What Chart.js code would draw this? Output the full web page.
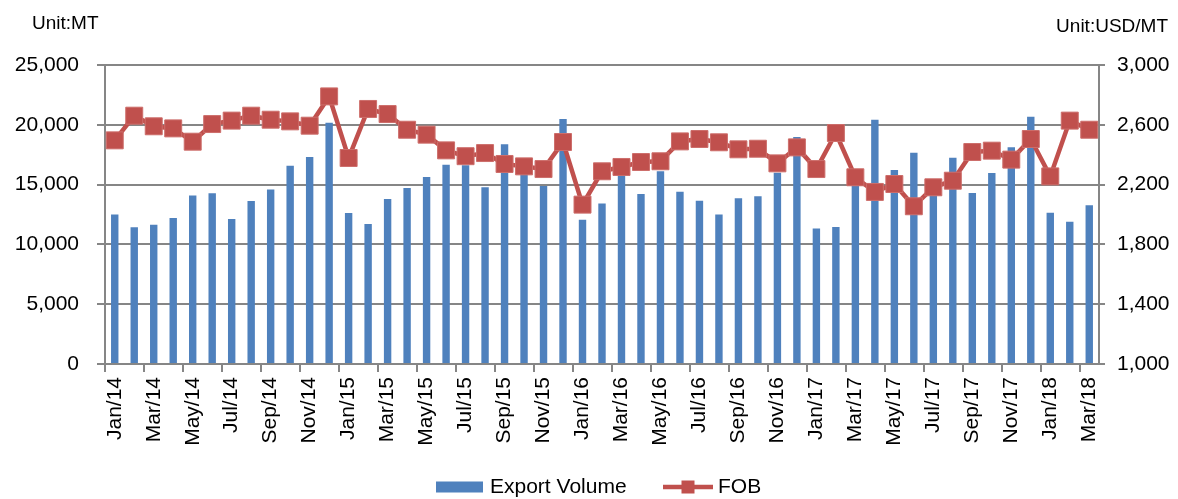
<!DOCTYPE html>
<html>
<head>
<meta charset="utf-8">
<script src="https://cdn.jsdelivr.net/npm/chart.js@4/dist/chart.umd.min.js"></script>
<style>
  html, body { margin: 0; padding: 0; background: #fff; }
  #wrap { width: 1178px; height: 499px; position: relative; }
</style>
</head>
<body>
<div id="wrap"><canvas id="chart" width="1178" height="499"></canvas></div>
<script>
// Month labels (x axis)
const months = [
    'Jan/14', 'Feb/14', 'Mar/14', 'Apr/14', 'May/14', 'Jun/14', 'Jul/14', 'Aug/14', 'Sep/14', 'Oct/14', 'Nov/14', 'Dec/14',
    'Jan/15', 'Feb/15', 'Mar/15', 'Apr/15', 'May/15', 'Jun/15', 'Jul/15', 'Aug/15', 'Sep/15', 'Oct/15', 'Nov/15', 'Dec/15',
    'Jan/16', 'Feb/16', 'Mar/16', 'Apr/16', 'May/16', 'Jun/16', 'Jul/16', 'Aug/16', 'Sep/16', 'Oct/16', 'Nov/16', 'Dec/16',
    'Jan/17', 'Feb/17', 'Mar/17', 'Apr/17', 'May/17', 'Jun/17', 'Jul/17', 'Aug/17', 'Sep/17', 'Oct/17', 'Nov/17', 'Dec/17',
    'Jan/18', 'Feb/18', 'Mar/18'
];

// Export volume (MT), left axis
const exportVolume = [
    12500, 11430, 11650, 12200, 14080, 14270, 12120, 13630, 14600, 16580, 17310, 20180,
    12630, 11710, 13800, 14720, 15640, 16670, 16610, 14770, 18370, 16000, 14880, 20490,
    12070, 13410, 16000, 14210, 16110, 14410, 13660, 12490, 13850, 14020, 16000, 18980,
    11320, 11460, 14900, 20430, 16220, 17670, 14100, 17250, 14300, 15970, 18120, 20680,
    12650, 11900, 13270
];

// FOB price (USD/MT), right axis
const fobPrice = [
    2496, 2661, 2590, 2576, 2487, 2605, 2628, 2661, 2634, 2623, 2594, 2790,
    2378, 2706, 2672, 2567, 2534, 2429, 2390, 2411, 2338, 2322, 2304, 2485,
    2066, 2289, 2318, 2351, 2356, 2489, 2505, 2483, 2436, 2440, 2342, 2449,
    2304, 2545, 2249, 2151, 2204, 2055, 2182, 2226, 2418, 2427, 2367, 2505,
    2255, 2628, 2567
];

// Axis tick values
const leftTicks = [0, 5000, 10000, 15000, 20000, 25000];
const rightTicks = [1000, 1400, 1800, 2200, 2600, 3000];

const BLUE = '#4F81BD';
const RED = '#C0504D';
const GRID = '#868686';
const LW = 2;
const FONT = "'Liberation Sans', Arial, sans-serif";

Chart.defaults.font.family = FONT;
Chart.defaults.color = '#000';

// Unit captions and legend drawn on the canvas
const extrasPlugin = {
    id: 'extras',
    afterDraw(chart) {
        const ctx = chart.ctx;
        ctx.save();
        ctx.fillStyle = '#000';
        ctx.textBaseline = 'middle';
        ctx.font = '19px ' + FONT;
        ctx.textAlign = 'left';
        ctx.fillText('Unit:MT', 32, 24);
        ctx.textAlign = 'right';
        ctx.fillText('Unit:USD/MT', 1168, 27);

        // Legend
        const ly = 487;
        ctx.font = '21px ' + FONT;
        ctx.textAlign = 'left';
        ctx.fillStyle = BLUE;
        ctx.fillRect(436, ly - 5.5, 47, 11);
        ctx.fillStyle = '#000';
        ctx.fillText('Export Volume', 490, ly);

        ctx.strokeStyle = RED;
        ctx.lineWidth = 4.5;
        ctx.beginPath();
        ctx.moveTo(663, ly);
        ctx.lineTo(713, ly);
        ctx.stroke();
        ctx.fillStyle = RED;
        ctx.fillRect(681.5, ly - 6.5, 13, 13);
        ctx.fillStyle = '#000';
        ctx.fillText('FOB', 718, ly);
        ctx.restore();
    }
};

const ctx = document.getElementById('chart');
new Chart(ctx, {
    type: 'bar',
    data: {
        labels: months,
        datasets: [
            {
                type: 'line',
                label: 'FOB',
                data: fobPrice,
                yAxisID: 'y1',
                order: 0,
                borderColor: RED,
                borderWidth: 4.5,
                tension: 0,
                pointStyle: 'rect',
                pointRadius: 12,
                pointBackgroundColor: RED,
                pointBorderColor: '#CD6E6B',
                pointBorderWidth: 1
            },
            {
                type: 'bar',
                label: 'Export Volume',
                data: exportVolume,
                yAxisID: 'y',
                order: 1,
                backgroundColor: BLUE,
                barPercentage: 0.38,
                categoryPercentage: 1
            }
        ]
    },
    options: {
        responsive: false,
        animation: false,
        layout: { padding: { top: 65, bottom: 0, left: 0, right: 0 } },
        plugins: {
            legend: { display: false },
            tooltip: { enabled: false }
        },
        scales: {
            x: {
                offset: true,
                grid: {
                    offset: true,
                    drawOnChartArea: false,
                    drawTicks: true,
                    tickLength: 8,
                    lineWidth: LW,
                    color: c => (c.index % 2 === 0 ? GRID : 'rgba(0,0,0,0)')
                },
                border: { display: true, color: GRID, width: LW },
                ticks: {
                    autoSkip: false,
                    minRotation: 90,
                    maxRotation: 90,
                    padding: 5,
                    font: { size: 21 },
                    callback: function(value, index) {
                        return index % 2 === 0 ? months[index] : '';
                    }
                },
                afterFit: scale => { scale.height = 135; }
            },
            y: {
                position: 'left',
                min: leftTicks[0],
                max: leftTicks[leftTicks.length - 1],
                grid: {
                    color: GRID,
                    lineWidth: LW,
                    tickLength: 8,
                    drawTicks: true
                },
                border: { display: true, color: GRID, width: LW },
                ticks: {
                    stepSize: leftTicks[1] - leftTicks[0],
                    padding: 18,
                    font: { size: 21 },
                    callback: v => v.toLocaleString('en-US')
                },
                afterFit: scale => { scale.width = 105; }
            },
            y1: {
                position: 'right',
                min: rightTicks[0],
                max: rightTicks[rightTicks.length - 1],
                grid: { drawOnChartArea: false, color: GRID, lineWidth: LW, tickLength: 6, drawTicks: true },
                border: { display: true, color: GRID, width: LW },
                ticks: {
                    stepSize: rightTicks[1] - rightTicks[0],
                    padding: 12,
                    font: { size: 21 },
                    callback: v => v.toLocaleString('en-US')
                },
                afterFit: scale => { scale.width = 79; }
            }
        }
    },
    plugins: [extrasPlugin]
});
</script>
</body>
</html>
